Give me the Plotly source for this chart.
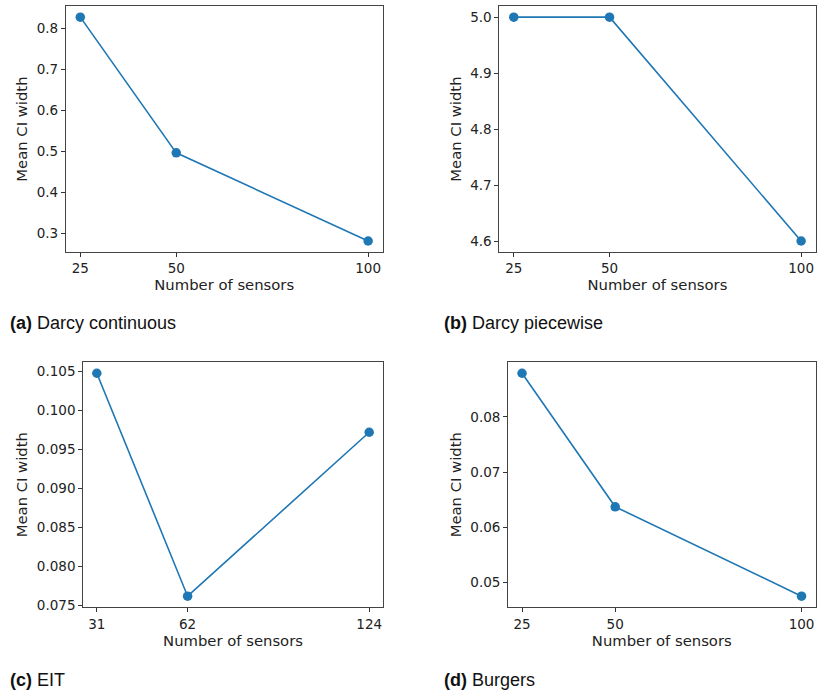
import plotly.graph_objects as go

# Data
sensors_darcy = [25, 50, 100]
ci_darcy_cont = [0.827, 0.496, 0.281]
ci_darcy_piece = [5.0, 5.0, 4.601]
sensors_eit = [31, 62, 124]
ci_eit = [0.10478, 0.07614, 0.0972]
sensors_burgers = [25, 50, 100]
ci_burgers = [0.0879, 0.0637, 0.0475]

captions = ["Darcy continuous", "Darcy piecewise", "EIT", "Burgers"]
letters = ["a", "b", "c", "d"]

W, H = 817, 700
BLUE = "#1f77b4"
TICKFONT = dict(family="DejaVu Sans", size=13.5, color="#222")
TITLEFONT = dict(family="DejaVu Sans", size=14.8, color="#222")

panels = [
    dict(x=sensors_darcy, y=ci_darcy_cont, px=(66, 383), py=(6, 254), fmt=".1f", dtick=0.1),
    dict(x=sensors_darcy, y=ci_darcy_piece, px=(500, 816.5), py=(6, 254), fmt=".1f", dtick=0.1),
    dict(x=sensors_eit, y=ci_eit, px=(83.3, 383.3), py=(364.7, 611.7), fmt=".3f", dtick=0.005),
    dict(x=sensors_burgers, y=ci_burgers, px=(508.7, 816.5), py=(364.7, 611.7), fmt=".2f", dtick=0.01),
]

def margin_range(vals):
    lo, hi = min(vals), max(vals)
    s = hi - lo
    return [lo - 0.05 * s, hi + 0.05 * s]

fig = go.Figure()
layout = {}
for i, p in enumerate(panels):
    n = "" if i == 0 else str(i + 1)
    fig.add_trace(go.Scatter(
        x=p["x"], y=p["y"], mode="lines+markers",
        line=dict(color=BLUE, width=1.6),
        marker=dict(color=BLUE, size=9.5),
        xaxis="x" + n, yaxis="y" + n, showlegend=False,
    ))
    xd = [p["px"][0] / W, p["px"][1] / W]
    yd = [1 - p["py"][1] / H, 1 - p["py"][0] / H]
    layout["xaxis" + n] = dict(
        domain=xd, anchor="y" + n, range=margin_range(p["x"]),
        tickmode="array", tickvals=p["x"], ticktext=[str(v) for v in p["x"]],
        ticks="outside", ticklen=4, tickcolor="#333", tickwidth=1,
        showline=True, linecolor="#444", linewidth=1, mirror=True,
        showgrid=False, zeroline=False, tickfont=TICKFONT,
        title=dict(text="Number of sensors", font=TITLEFONT, standoff=1),
    )
    layout["yaxis" + n] = dict(
        domain=yd, anchor="x" + n, range=margin_range(p["y"]),
        dtick=p["dtick"], tickformat=p["fmt"],
        ticks="outside", ticklen=4, tickcolor="#333", tickwidth=1,
        showline=True, linecolor="#444", linewidth=1, mirror=True,
        showgrid=False, zeroline=False, tickfont=TICKFONT,
        title=dict(text="Mean CI width", font=TITLEFONT, standoff=5),
    )

cap_pos = [(8, 325), (443, 325), (8, 685), (443, 685)]
annotations = []
for (cx, cy), letter, cap in zip(cap_pos, letters, captions):
    annotations.append(dict(
        x=cx / W, y=1 - cy / H, xref="paper", yref="paper",
        xanchor="left", yanchor="middle", showarrow=False,
        text=f"<b>({letter})</b> {cap}",
        font=dict(family="Liberation Sans", size=18, color="#111"),
    ))

fig.update_layout(
    width=W, height=H, margin=dict(l=0, r=0, t=0, b=0),
    paper_bgcolor="white", plot_bgcolor="white",
    annotations=annotations, **layout,
)
fig.write_html("out.html")
